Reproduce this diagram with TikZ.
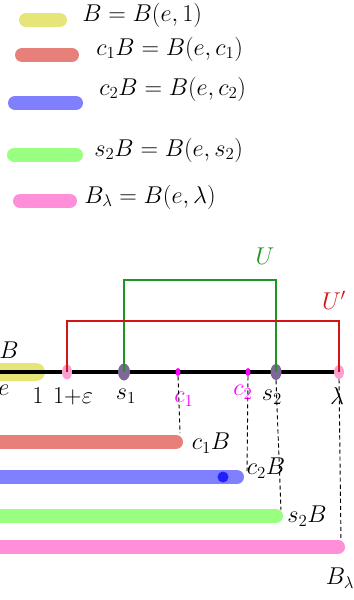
\documentclass[tikz,border=0pt]{standalone}
\usepackage{amsmath,amssymb}
\usepackage{tikz}
\usetikzlibrary{shapes.geometric,positioning,calc}
\definecolor{hyel}{RGB}{230,230,120}
\definecolor{hred}{RGB}{232,128,122}
\definecolor{hblue}{RGB}{128,128,255}
\definecolor{hgreen}{RGB}{153,255,128}
\definecolor{hpink}{RGB}{255,143,216}
\definecolor{dpur}{RGB}{128,104,150}
\definecolor{dpink}{RGB}{250,160,210}
\definecolor{dmag}{RGB}{255,0,255}
\definecolor{brkgreen}{RGB}{30,150,30}
\definecolor{brkred}{RGB}{210,20,20}
\tikzset{
  bar/.style={line width=4.2mm,line cap=round},
  eq/.style={font=\huge,anchor=west,inner sep=1pt},
  tk/.style={font=\huge,inner sep=1pt},
  pt/.style={ellipse,inner sep=0pt},
  guide/.style={line width=0.8pt,dash pattern=on 3.5pt off 2.5pt},
  brk/.style={line width=1.5pt}
}
\begin{document}
\begin{tikzpicture}[x=0.03cm,y=-0.03cm]
\useasboundingbox (0,0) rectangle (353,600);
% legend
\foreach \n/\c/\xa/\xb/\y/\tx/\ty/\txt in {
{ly}/{hyel}/{26}/{60}/{20}/{81}/{15}/{$B = B(e,1)$},
{lr}/{hred}/{22}/{72}/{55}/{95}/{49}/{$c_1B = B(e,c_1)$},
{lb}/{hblue}/{15}/{76}/{103}/{98}/{89}/{$c_2B = B(e,c_2)$},
{lg}/{hgreen}/{14}/{76}/{155}/{93}/{150}/{$s_2B = B(e,s_2)$},
{lp}/{hpink}/{20}/{70}/{201}/{83}/{197}/{$B_\lambda = B(e,\lambda)$}}{
  \coordinate (\n a) at (\xa,\y);
  \coordinate (\n b) at (\xb,\y);
  \draw[bar,\c] (\n a) -- (\n b);
  \node[eq] (\n t) at (\tx,\ty) {\txt};
}
% axis
\coordinate (ax0) at (-5,372);
\coordinate (ax1) at (340,372);
\coordinate (p1) at (36,372);
\draw[bar,hyel,line width=5.4mm] (ax0) -- (p1);
\draw[line width=1.2mm] (ax0) -- (ax1);
\foreach \n/\x/\c/\w/\h in {{eps}/{67}/{dpink}/{10}/{15},{s1}/{124}/{dpur}/{12}/{17},{c1}/{178}/{dmag}/{5}/{8},{c2}/{248}/{dmag}/{5}/{8},{s2}/{276}/{dpur}/{11}/{16},{lam}/{339}/{dpink}/{10}/{14}}{
  \node[pt,fill=\c,minimum width=\w*0.3mm,minimum height=\h*0.3mm] (p\n) at (\x,372) {};
}
\foreach \n/\x/\y/\c/\txt in {{e}/{4}/{390}/{black}/{$e$},{b}/{9}/{350}/{black}/{$B$},{one}/{38}/{396}/{black}/{$1$},{eps}/{73}/{396}/{black}/{$1{+}\varepsilon$},{s1}/{126}/{396}/{black}/{$s_1$},{c1}/{184}/{399}/{dmag}/{$c_1$},{c2}/{243}/{392}/{dmag}/{$c_2$},{s2}/{272}/{397}/{black}/{$s_2$},{lam}/{337}/{396}/{black}/{$\lambda$}}{
  \node[tk,text=\c] (t\n) at (\x,\y) {\txt};
}
% brackets
\coordinate (uy) at (0,280);
\coordinate (vy) at (0,321);
\draw[brk,draw=brkgreen] (ps1.center) -- (ps1 |- uy) -- (ps2 |- uy) -- (ps2.center);
\draw[brk,draw=brkred] (peps.center) -- (peps |- vy) -- (plam |- vy) -- (plam.center);
\node[tk,text=brkgreen] (tu) at (265,256) {$U$};
\node[tk,text=brkred] (tv) at (334,300) {$U'$};
% lower bars
\foreach \n/\c/\xb/\y/\tx/\ty/\txt in {
{br}/{hred}/{176}/{442}/{211}/{443}/{$c_1B$},
{bb}/{hblue}/{237}/{477}/{266}/{468}/{$c_2B$},
{bg}/{hgreen}/{276}/{516}/{307}/{516}/{$s_2B$},
{bp}/{hpink}/{338}/{547}/{340}/{578}/{$B_\lambda$}}{
  \coordinate (\n a) at (-10,\y);
  \coordinate (\n b) at (\xb,\y);
  \draw[bar,\c] (\n a) -- (\n b);
  \node[tk] (\n t) at (\tx,\ty) {\txt};
}
\fill[blue!75!hblue] (223,477) circle (5.5);
% guides
\draw[guide] (pc1.south) -- ($(brb)+(4,-9)$);
\draw[guide] (pc2.south) -- ($(bbb)+(10,-6)$);
\draw[guide] (ps2.south) -- ($(bgb)+(5,-6)$);
\draw[guide] (plam.south) -- ($(bpb)+(3,-6)$);
\end{tikzpicture}
\end{document}
